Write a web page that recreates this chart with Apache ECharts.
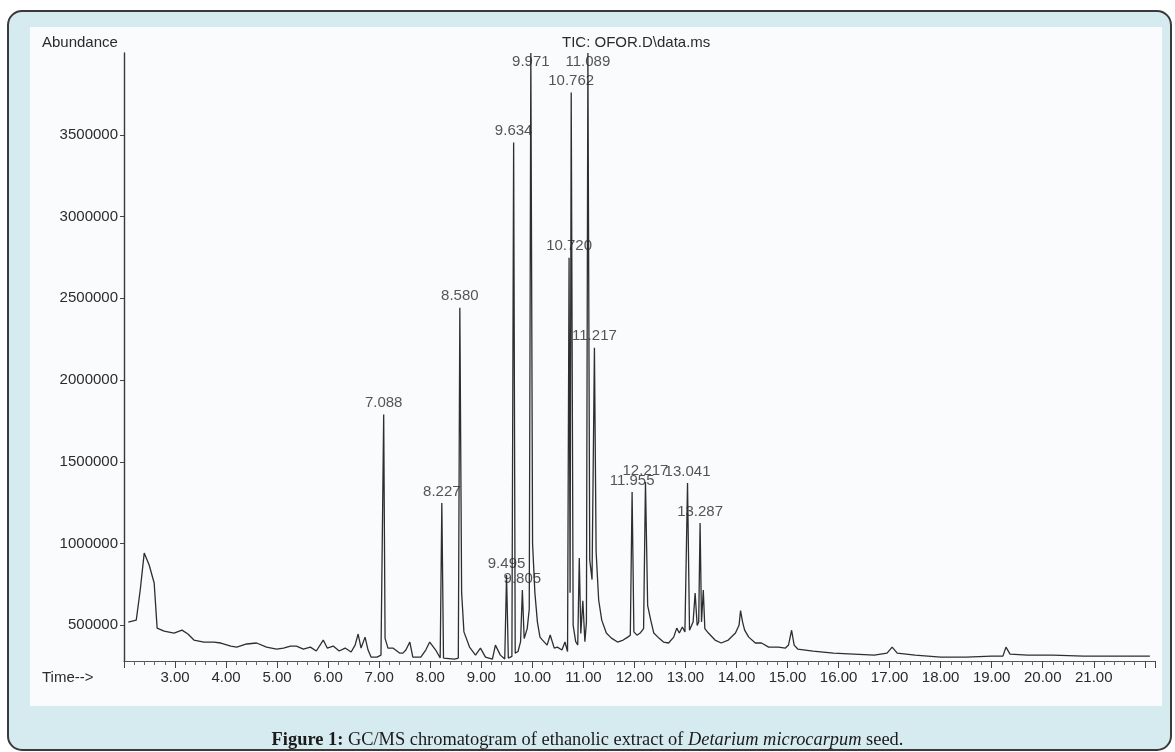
<!DOCTYPE html>
<html>
<head>
<meta charset="utf-8">
<script src="https://cdn.jsdelivr.net/npm/echarts@6.0.0/dist/echarts.min.js"></script>
<style>
html,body{margin:0;padding:0;background:#ffffff;}
#chart{width:1175px;height:752px;}
</style>
</head>
<body>
<div id="chart"></div>
<script>
// Retention time (min) of each point of the TIC trace
var traceTime = [
 2.084,2.240,2.318,2.396,2.493,2.591,2.649,2.786,2.981,3.136,3.253,3.370,3.565,3.760,3.897,4.092,4.209,4.404,4.598,4.793,4.988,
 5.125,5.261,5.378,5.515,5.651,5.768,5.904,5.982,6.099,6.216,6.333,6.450,6.528,6.587,6.645,6.723,6.782,6.840,6.957,7.035,7.060,
 7.088,7.115,7.172,7.269,7.405,7.464,7.522,7.600,7.659,7.815,7.912,7.990,8.107,8.195,8.227,8.260,8.478,8.550,8.580,8.615,8.660,
 8.770,8.887,8.984,9.082,9.218,9.277,9.374,9.460,9.495,9.530,9.600,9.634,9.665,9.720,9.770,9.805,9.840,9.900,9.940,9.971,
 10.005,10.050,10.100,10.150,10.200,10.290,10.350,10.430,10.490,10.580,10.640,10.690,10.720,10.740,10.762,10.800,10.850,10.890,
 10.920,10.950,10.990,11.030,11.060,11.089,11.125,11.170,11.217,11.250,11.300,11.360,11.450,11.550,11.670,11.780,11.870,11.920,
 11.955,11.990,12.050,12.120,12.180,12.217,12.260,12.320,12.380,12.480,12.570,12.670,12.770,12.830,12.880,12.940,12.990,13.010,
 13.041,13.080,13.150,13.190,13.230,13.260,13.287,13.315,13.350,13.380,13.450,13.580,13.700,13.840,13.980,14.050,14.080,14.120,
 14.160,14.240,14.370,14.490,14.630,14.820,14.960,15.020,15.080,15.130,15.200,15.500,15.900,16.300,16.700,16.950,17.050,17.150,
 17.500,18.000,18.500,19.000,19.220,19.280,19.360,19.700,20.200,20.800,21.500,22.100
];
// Abundance of each point of the TIC trace
var traceAbundance = [
 520000,532000,716000,942000,869000,759000,483000,465000,453000,471000,447000,410000,398000,398000,392000,373000,367000,386000,392000,367000,355000,
 361000,373000,373000,355000,367000,343000,410000,361000,373000,343000,361000,337000,379000,447000,361000,428000,349000,306000,306000,318000,330000,
 1790000,420000,361000,361000,330000,330000,349000,398000,306000,306000,349000,398000,349000,300000,1248000,300000,294000,300000,2442000,700000,460000,
 367000,318000,361000,306000,294000,379000,318000,294000,808000,300000,310000,3452000,330000,340000,400000,716000,420000,480000,600000,4000000,
 1000000,700000,520000,428000,410000,379000,441000,361000,367000,349000,398000,340000,2748000,700000,3758000,500000,400000,380000,
 912000,450000,650000,400000,520000,4000000,900000,780000,2197000,950000,655000,532000,453000,422000,398000,410000,428000,440000,
 1316000,460000,440000,455000,480000,1377000,620000,532000,453000,422000,398000,392000,428000,483000,453000,490000,459000,450000,
 1371000,470000,520000,698000,500000,520000,1126000,520000,716000,480000,453000,410000,392000,410000,453000,500000,590000,520000,
 471000,428000,392000,392000,367000,367000,361000,380000,470000,379000,355000,343000,330000,324000,318000,330000,367000,330000,
 318000,306000,306000,312000,312000,367000,324000,318000,318000,312000,312000,312000
];
// Labelled peaks
var peakTimes = [7.088, 8.227, 8.580, 9.495, 9.634, 9.805, 9.971, 10.720, 10.762, 11.089, 11.217, 11.955, 12.217, 13.041, 13.287];
var peakHeights = [1790000, 1248000, 2442000, 808000, 3452000, 716000, 4000000, 2748000, 3758000, 4000000, 2197000, 1316000, 1377000, 1371000, 1126000];
var peakLabels = ['7.088','8.227','8.580','9.495','9.634','9.805','9.971','10.720','10.762','11.089','11.217','11.955','12.217','13.041','13.287'];
// Axis tick labels
var xTickLabels = [3,4,5,6,7,8,9,10,11,12,13,14,15,16,17,18,19,20,21];
var yTickValues = [500000,1000000,1500000,2000000,2500000,3000000,3500000];

var chart = echarts.init(document.getElementById('chart'), null, {renderer: 'canvas'});

var trace = traceTime.map(function (t, i) { return [t, traceAbundance[i]]; });
var peaks = peakTimes.map(function (t, i) {
  var top = peakHeights[i] >= 4000000;
  return {
    value: [t, peakHeights[i]],
    name: peakLabels[i],
    label: top ? {position: 'bottom', distance: 1} : {position: 'top', distance: 4}
  };
});

var txt = '#2b2b2b';
var sans = '"Liberation Sans", Arial, sans-serif';
var serif = '"Liberation Serif", "DejaVu Serif", serif';
var capSize = 18.4;

chart.setOption({
  animation: false,
  backgroundColor: '#ffffff',
  title: {
    text: '{b|Figure 1:} GC/MS chromatogram of ethanolic extract of {i|Detarium microcarpum} seed.',
    left: 'center',
    top: 726,
    textStyle: {
      fontFamily: serif,
      fontSize: capSize,
      fontWeight: 'normal',
      color: '#1a1a1a',
      rich: {
        b: {fontFamily: serif, fontSize: capSize, fontWeight: 'bold', color: '#1a1a1a'},
        i: {fontFamily: serif, fontSize: capSize, fontStyle: 'italic', color: '#1a1a1a'}
      }
    }
  },
  graphic: [
    {type: 'rect', z: -10, shape: {x: 8, y: 11, width: 1163, height: 739, r: 14},
     style: {fill: '#d6ebf0', stroke: '#3a3a3a', lineWidth: 2}},
    {type: 'rect', z: -9, shape: {x: 30, y: 27, width: 1132, height: 679},
     style: {fill: '#f9fbfc'}},
    {type: 'text', z: 10, left: 42, top: 35,
     style: {text: 'Abundance', fill: txt, font: '15px ' + sans}},
    {type: 'text', z: 10, left: 42, top: 670,
     style: {text: 'Time-->', fill: txt, font: '15px ' + sans}},
    {type: 'text', z: 10, left: 562, top: 35,
     style: {text: 'TIC: OFOR.D\\data.ms', fill: txt, font: '15px ' + sans}}
  ],
  grid: {left: 124, right: 20, top: 53, bottom: 91, containLabel: false},
  xAxis: {
    type: 'value',
    min: 2,
    max: 22.2,
    interval: 1,
    axisLine: {show: true, lineStyle: {color: '#555', width: 1}},
    axisTick: {show: true, inside: false, length: 7, lineStyle: {color: '#444', width: 1}},
    minorTick: {show: true, splitNumber: 5, length: 4, lineStyle: {color: '#666', width: 1}},
    splitLine: {show: false},
    axisLabel: {
      margin: 9,
      color: txt,
      fontFamily: sans,
      fontSize: 15,
      formatter: function (v) {
        var r = Math.round(v);
        if (Math.abs(v - r) > 1e-6) return '';
        return xTickLabels.indexOf(r) >= 0 ? r.toFixed(2) : '';
      }
    }
  },
  yAxis: {
    type: 'value',
    min: 282000,
    max: 4000000,
    axisLine: {show: true, lineStyle: {color: '#3a3a3a', width: 1.4}},
    axisTick: {show: true, length: 4, customValues: yTickValues, lineStyle: {color: '#444'}},
    splitLine: {show: false},
    axisLabel: {
      margin: 6,
      color: txt,
      fontFamily: sans,
      fontSize: 15,
      customValues: yTickValues,
      formatter: function (v) { return String(v); }
    }
  },
  series: [
    {
      type: 'line',
      data: trace,
      symbol: 'none',
      smooth: false,
      clip: false,
      lineStyle: {color: '#2e2e2e', width: 1.3},
      z: 3
    },
    {
      type: 'scatter',
      data: peaks,
      symbolSize: 0,
      clip: false,
      z: 4,
      label: {
        show: true,
        color: txt,
        fontFamily: sans,
        fontSize: 15,
        formatter: function (p) { return p.name; }
      }
    }
  ]
});
</script>
</body>
</html>
